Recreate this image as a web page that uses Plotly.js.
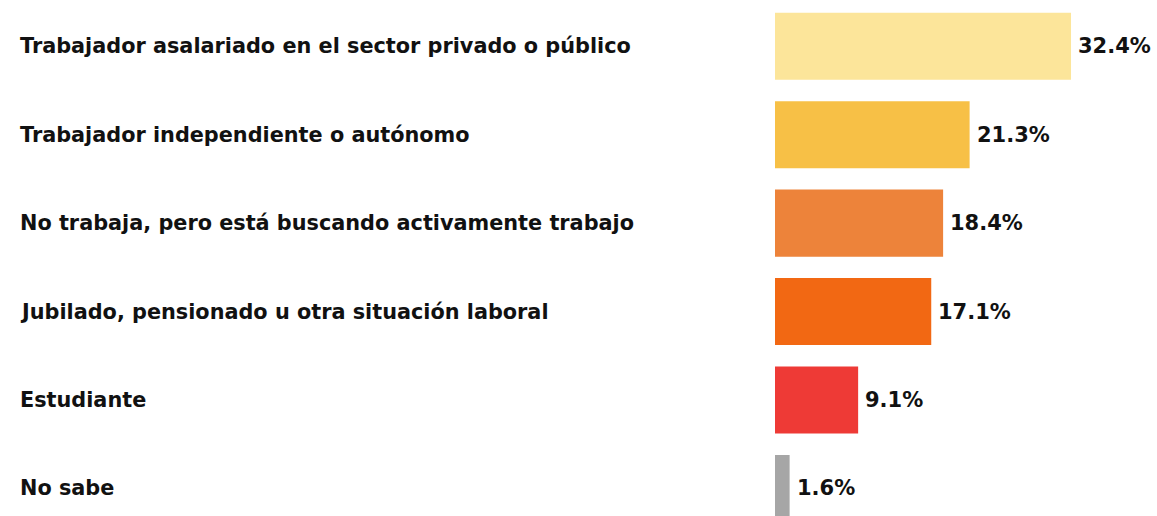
<!DOCTYPE html>
<html>
<head>
<meta charset="utf-8">
<script src="https://cdn.plot.ly/plotly-3.0.1.min.js"></script>
<style>html,body{margin:0;padding:0;background:#fff;}#chart{width:1157px;height:516px;}</style>
</head>
<body>
<div id="chart"></div>
<script>
const categories = [
  "Trabajador asalariado en el sector privado o público",
  "Trabajador independiente o autónomo",
  "No trabaja, pero está buscando activamente trabajo",
  "Jubilado, pensionado u otra situación laboral",
  "Estudiante",
  "No sabe"
];
const values = [32.4, 21.3, 18.4, 17.1, 9.1, 1.6];
const valueLabels = ["32.4%", "21.3%", "18.4%", "17.1%", "9.1%", "1.6%"];
const barColors = ["#FCE59A", "#F7C046", "#ED833A", "#F26813", "#EE3A36", "#A6A6A6"];

const FONT = "'DejaVu Sans', sans-serif";

const trace = {
  type: "bar",
  orientation: "h",
  y: categories,
  x: values,
  marker: {color: barColors, line: {width: 0}},
  hoverinfo: "none"
};

const annotations = [];
categories.forEach((c, i) => {
  annotations.push({
    xref: "paper", yref: "y", x: -1.982, y: c,
    xanchor: "left", yanchor: "middle",
    text: "<b>" + c + "</b>", showarrow: false,
    font: {family: FONT, size: 20.8, color: "#111"}
  });
  annotations.push({
    xref: "x", yref: "y", x: values[i], y: c,
    xanchor: "left", yanchor: "middle", xshift: 5,
    text: "<b>" + valueLabels[i] + "</b>", showarrow: false,
    font: {family: FONT, size: 21, color: "#111"}
  });
});

const layout = {
  width: 1157, height: 516,
  margin: {l: 775, r: 0, t: 2, b: 0, pad: 0},
  paper_bgcolor: "#fff", plot_bgcolor: "#fff",
  showlegend: false,
  bargap: 0.242,
  xaxis: {range: [0, 41.81], showgrid: false, zeroline: false, showticklabels: false, showline: false, ticks: ""},
  yaxis: {type: "category", range: [5.311, -0.5], showgrid: false, zeroline: false, showticklabels: false, showline: false, ticks: ""},
  annotations: annotations,
  font: {family: FONT}
};

Plotly.newPlot("chart", [trace], layout, {staticPlot: true, displayModeBar: false});
</script>
</body>
</html>
